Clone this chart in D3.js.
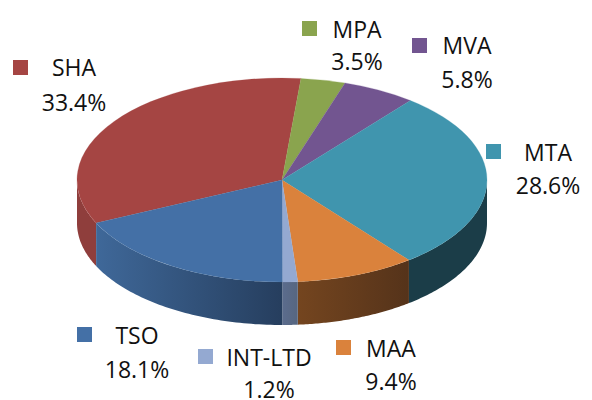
<!DOCTYPE html>
<html>
<head>
<meta charset="utf-8">
<script src="https://cdn.jsdelivr.net/npm/d3@7"></script>
<style>
  html, body { margin: 0; padding: 0; background: #fff; }
  svg { display: block; }
  text { font-family: "Open Sans", sans-serif; font-size: 23px; fill: #111; text-anchor: middle; }
</style>
</head>
<body>
<svg id="chart" width="592" height="400"></svg>
<script>
const categories = ["SHA", "MPA", "MVA", "MTA", "MAA", "INT-LTD", "TSO"];
const shares = [33.4, 3.5, 5.8, 28.6, 9.4, 1.2, 18.1];
const topColors = ["#a54543", "#8aa44e", "#725590", "#4095ae", "#da823c", "#94a9d1", "#4470a6"];
const wallFrom = ["#8f3e3c", "#6a7f3c", "#574270", "#1b3d48", "#74451f", "#5b6c8d", "#3f6899"];
const wallTo = ["#8f3e3c", "#6a7f3c", "#574270", "#1b3d48", "#55331a", "#566680", "#263e5e"];

// swatch corner, text centre and the two baselines of each label
const labelLayout = {
  "SHA": { sx: 13, sy: 60, cx: 74, y1: 76, y2: 111 },
  "MPA": { sx: 302, sy: 21, cx: 357, y1: 38, y2: 70 },
  "MVA": { sx: 412, sy: 38, cx: 467, y1: 54, y2: 88 },
  "MTA": { sx: 486, sy: 144, cx: 548, y1: 161, y2: 194 },
  "MAA": { sx: 336, sy: 340, cx: 391, y1: 357, y2: 390 },
  "INT-LTD": { sx: 198, sy: 349, cx: 269, y1: 366, y2: 398 },
  "TSO": { sx: 77, sy: 327, cx: 137, y1: 344, y2: 378 },
};

const cx = 282, cy = 180, rx = 205, ry = 102, depth = 43;
const svg = d3.select("#chart");
const data = categories.map((name, i) => ({ name, value: shares[i], i }));

// SHA comes first and ends 5.3 degrees past 12 o'clock
const startAngle = (5.3 * Math.PI) / 180 - (shares[0] / 100) * 2 * Math.PI;
const pie = d3.pie().sort(null).value((d) => d.value)
  .startAngle(startAngle).endAngle(startAngle + 2 * Math.PI);
const slices = pie(data);

const px = (a) => cx + rx * Math.sin(a);
const py = (a) => cy - ry * Math.cos(a);

// side walls, only the front half of the rim is visible
const defs = svg.append("defs");
const wall = d3.area().x((a) => px(a)).y0((a) => py(a)).y1((a) => py(a) + depth);
const wallGroup = svg.append("g").attr("class", "walls");

slices.forEach((s) => {
  // SHA starts below zero, so look at both turns
  [0, 2 * Math.PI].forEach((turn) => {
    const a0 = Math.max(s.startAngle + turn, Math.PI / 2);
    const a1 = Math.min(s.endAngle + turn, (3 * Math.PI) / 2);
    if (a1 <= a0) return;
    const angles = d3.range(0, 61).map((k) => a0 + ((a1 - a0) * k) / 60);
    const xs = d3.extent(angles, px);
    const id = "wall-" + s.index + "-" + (turn ? 1 : 0);
    const grad = defs.append("linearGradient").attr("id", id)
      .attr("gradientUnits", "userSpaceOnUse")
      .attr("x1", xs[0]).attr("x2", xs[1]).attr("y1", 0).attr("y2", 0);
    grad.append("stop").attr("offset", 0).attr("stop-color", wallFrom[s.index]);
    grad.append("stop").attr("offset", 1).attr("stop-color", wallTo[s.index]);
    wallGroup.append("path").attr("d", wall(angles)).attr("fill", "url(#" + id + ")");
  });
});

// top face: circle arcs squashed to the ellipse
const arc = d3.arc().innerRadius(0).outerRadius(rx);
svg.append("g")
  .attr("transform", `translate(${cx},${cy}) scale(1,${ry / rx})`)
  .selectAll("path")
  .data(slices)
  .join("path")
  .attr("d", arc)
  .attr("fill", (d) => topColors[d.index])
  .attr("stroke", (d) => topColors[d.index])
  .attr("stroke-width", 0.3);

// labels
const labels = svg.append("g").selectAll("g").data(data).join("g");
labels.append("rect")
  .attr("x", (d) => labelLayout[d.name].sx)
  .attr("y", (d) => labelLayout[d.name].sy)
  .attr("width", 15).attr("height", 15)
  .attr("fill", (d) => topColors[d.i]);
labels.append("text")
  .attr("x", (d) => labelLayout[d.name].cx)
  .attr("y", (d) => labelLayout[d.name].y1)
  .text((d) => d.name);
labels.append("text")
  .attr("x", (d) => labelLayout[d.name].cx)
  .attr("y", (d) => labelLayout[d.name].y2)
  .text((d) => d.value.toFixed(1) + "%");
</script>
</body>
</html>
